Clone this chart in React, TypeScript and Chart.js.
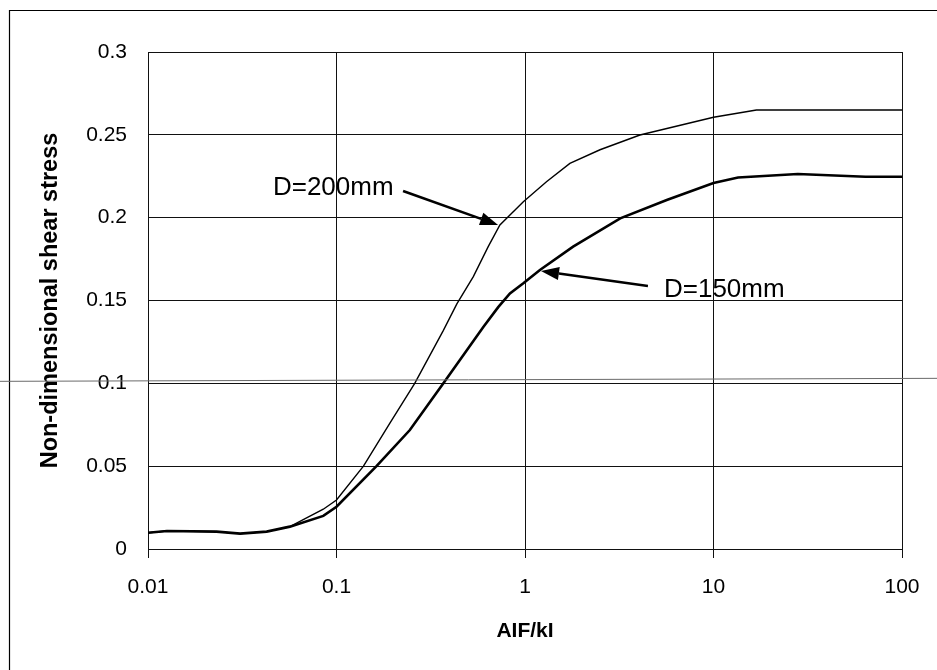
import React, { useEffect, useRef } from "react";
import { Chart, registerables } from "chart.js";

Chart.register(...registerables);

// ---- axis ticks ----
const xTicks = [0.01, 0.1, 1, 10, 100];
const xTickLabels = ["0.01", "0.1", "1", "10", "100"];
const yTicks = [0, 0.05, 0.1, 0.15, 0.2, 0.25, 0.3];
const yTickLabels = ["0", "0.05", "0.1", "0.15", "0.2", "0.25", "0.3"];

// ---- series: D=200mm (thin line) ----
const d200X = [0.01, 0.0126, 0.0231, 0.0308, 0.0426, 0.0566, 0.0851, 0.1, 0.139, 0.192, 0.26, 0.369, 0.435, 0.532, 0.638, 0.736, 0.98, 1.3, 1.73, 2.5, 4.07, 10, 16.9, 100];
const d200Y = [0.0098, 0.0109, 0.0105, 0.0093, 0.0105, 0.0135, 0.024, 0.0296, 0.05, 0.076, 0.1, 0.132, 0.148, 0.1644, 0.1825, 0.1956, 0.2096, 0.2217, 0.2328, 0.241, 0.2499, 0.2606, 0.265, 0.265];

// ---- series: D=150mm (thick line) ----
const d150X = [0.01, 0.0126, 0.0231, 0.0308, 0.0426, 0.0566, 0.0851, 0.1, 0.163, 0.245, 0.369, 0.601, 0.721, 0.832, 0.98, 1.2, 1.8, 3.2, 5.65, 10, 13.5, 28, 64, 100];
const d150Y = [0.0098, 0.0109, 0.0105, 0.0093, 0.0105, 0.0135, 0.02, 0.0255, 0.05, 0.0718, 0.1, 0.134, 0.146, 0.1543, 0.1604, 0.1684, 0.1825, 0.1996, 0.2107, 0.2209, 0.2242, 0.2264, 0.2247, 0.2247];

// ---- texts ----
const xTitle = "AIF/kI";
const yTitle = "Non-dimensional shear stress";
const label200 = "D=200mm";
const label150 = "D=150mm";

// annotation anchors in data coordinates [x, y]
const label200At = [0.046, 0.2179];
const arrow200From = [0.2255, 0.2161];
const arrow200To = [0.72, 0.1956];
const label150At = [5.46, 0.1563];
const arrow150From = [4.49, 0.1587];
const arrow150To = [1.216, 0.1678];

const FONT = '"Liberation Sans", Arial, Helvetica, sans-serif';

function drawArrow(ctx: CanvasRenderingContext2D, x1: number, y1: number, x2: number, y2: number) {
  const ang = Math.atan2(y2 - y1, x2 - x1);
  const headLen = 18;
  const headHalf = 6.5;
  const bx = x2 - headLen * Math.cos(ang);
  const by = y2 - headLen * Math.sin(ang);
  ctx.beginPath();
  ctx.moveTo(x1, y1);
  ctx.lineTo(bx, by);
  ctx.lineWidth = 2.6;
  ctx.strokeStyle = "#000";
  ctx.stroke();
  ctx.beginPath();
  ctx.moveTo(x2, y2);
  ctx.lineTo(bx + headHalf * Math.sin(ang), by - headHalf * Math.cos(ang));
  ctx.lineTo(bx - headHalf * Math.sin(ang), by + headHalf * Math.cos(ang));
  ctx.closePath();
  ctx.fillStyle = "#000";
  ctx.fill();
}

const decorPlugin = {
  id: "decor",
  beforeDraw(chart: any) {
    const { ctx, width, height } = chart;
    ctx.save();
    ctx.fillStyle = "#fff";
    ctx.fillRect(0, 0, width, height);
    // outer frame (top and left edges visible in the scan)
    ctx.strokeStyle = "#000";
    ctx.lineWidth = 1.2;
    ctx.beginPath();
    ctx.moveTo(width, 10.5);
    ctx.lineTo(9.5, 10.5);
    ctx.lineTo(9.5, height);
    ctx.stroke();
    ctx.restore();
  },
  afterDraw(chart: any) {
    const { ctx, chartArea, width } = chart;
    const xs = chart.scales.x;
    const ys = chart.scales.y;
    const px = (p: number[]) => [xs.getPixelForValue(p[0]), ys.getPixelForValue(p[1])];
    ctx.save();

    // annotations
    ctx.fillStyle = "#000";
    ctx.font = `26px ${FONT}`;
    ctx.textAlign = "left";
    ctx.textBaseline = "middle";
    const l2 = px(label200At);
    ctx.fillText(label200, l2[0], l2[1]);
    const l1 = px(label150At);
    ctx.fillText(label150, l1[0], l1[1]);
    const a2f = px(arrow200From), a2t = px(arrow200To);
    drawArrow(ctx, a2f[0], a2f[1], a2t[0], a2t[1]);
    const a1f = px(arrow150From), a1t = px(arrow150To);
    drawArrow(ctx, a1f[0], a1f[1], a1t[0], a1t[1]);

    // axis titles
    ctx.fillStyle = "#000";
    ctx.font = `bold 21px ${FONT}`;
    ctx.textAlign = "center";
    ctx.textBaseline = "middle";
    ctx.fillText(xTitle, (chartArea.left + chartArea.right) / 2, 631);
    ctx.save();
    ctx.translate(51, (chartArea.top + chartArea.bottom) / 2);
    ctx.rotate(-Math.PI / 2);
    ctx.font = `bold 23.5px ${FONT}`;
    ctx.fillText(yTitle, 0, 0);
    ctx.restore();

    // scan artifact: thin grey line across the page just above the 0.1 gridline
    const yRef = ys.getPixelForValue(0.1);
    ctx.strokeStyle = "#6a6a6a";
    ctx.lineWidth = 1;
    ctx.beginPath();
    ctx.moveTo(0, yRef - 2);
    ctx.lineTo(width, yRef - 5);
    ctx.stroke();

    ctx.restore();
  },
};

export default function App() {
  const ref = useRef<HTMLCanvasElement | null>(null);

  useEffect(() => {
    if (!ref.current) return;
    Chart.defaults.font.family = FONT;
    const chart = new Chart(ref.current, {
      type: "scatter",
      data: {
        datasets: [
          {
            label: label200,
            data: d200X.map((x, i) => ({ x, y: d200Y[i] })),
            showLine: true,
            borderColor: "#000",
            borderWidth: 1.4,
            pointRadius: 0,
            tension: 0,
          },
          {
            label: label150,
            data: d150X.map((x, i) => ({ x, y: d150Y[i] })),
            showLine: true,
            borderColor: "#000",
            borderWidth: 2.6,
            pointRadius: 0,
            tension: 0,
          },
        ],
      },
      options: {
        responsive: false,
        animation: false,
        devicePixelRatio: 1,
        layout: { padding: { top: 52, right: 35, left: 0, bottom: 0 } },
        plugins: { legend: { display: false }, tooltip: { enabled: false } },
        scales: {
          x: {
            type: "logarithmic",
            min: 0.01,
            max: 100,
            afterBuildTicks: (s: any) => {
              s.ticks = xTicks.map((v) => ({ value: v }));
            },
            afterFit: (s: any) => {
              s.height = 121;
            },
            grid: { color: "#111", lineWidth: 1, drawTicks: true, tickLength: 9, tickColor: "#111" },
            border: { display: true, color: "#111", width: 1 },
            ticks: {
              autoSkip: false,
              maxRotation: 0,
              padding: 17,
              color: "#000",
              font: { size: 21, family: FONT },
              callback: (_v: any, i: number) => xTickLabels[i],
            },
          },
          y: {
            type: "linear",
            min: 0,
            max: 0.3,
            afterBuildTicks: (s: any) => {
              s.ticks = yTicks.map((v) => ({ value: v }));
            },
            afterFit: (s: any) => {
              s.width = 148;
            },
            grid: { color: "#111", lineWidth: 1, drawTicks: false },
            border: { display: true, color: "#111", width: 1 },
            ticks: {
              padding: 21,
              color: "#000",
              font: { size: 21, family: FONT },
              callback: (_v: any, i: number) => yTickLabels[i],
            },
          },
        },
      },
      plugins: [decorPlugin],
    });
    return () => chart.destroy();
  }, []);

  return (
    <div style={{ position: "absolute", left: 0, top: 0, width: 937, height: 670, background: "#fff" }}>
      <canvas ref={ref} width={937} height={670} style={{ display: "block" }} />
    </div>
  );
}
